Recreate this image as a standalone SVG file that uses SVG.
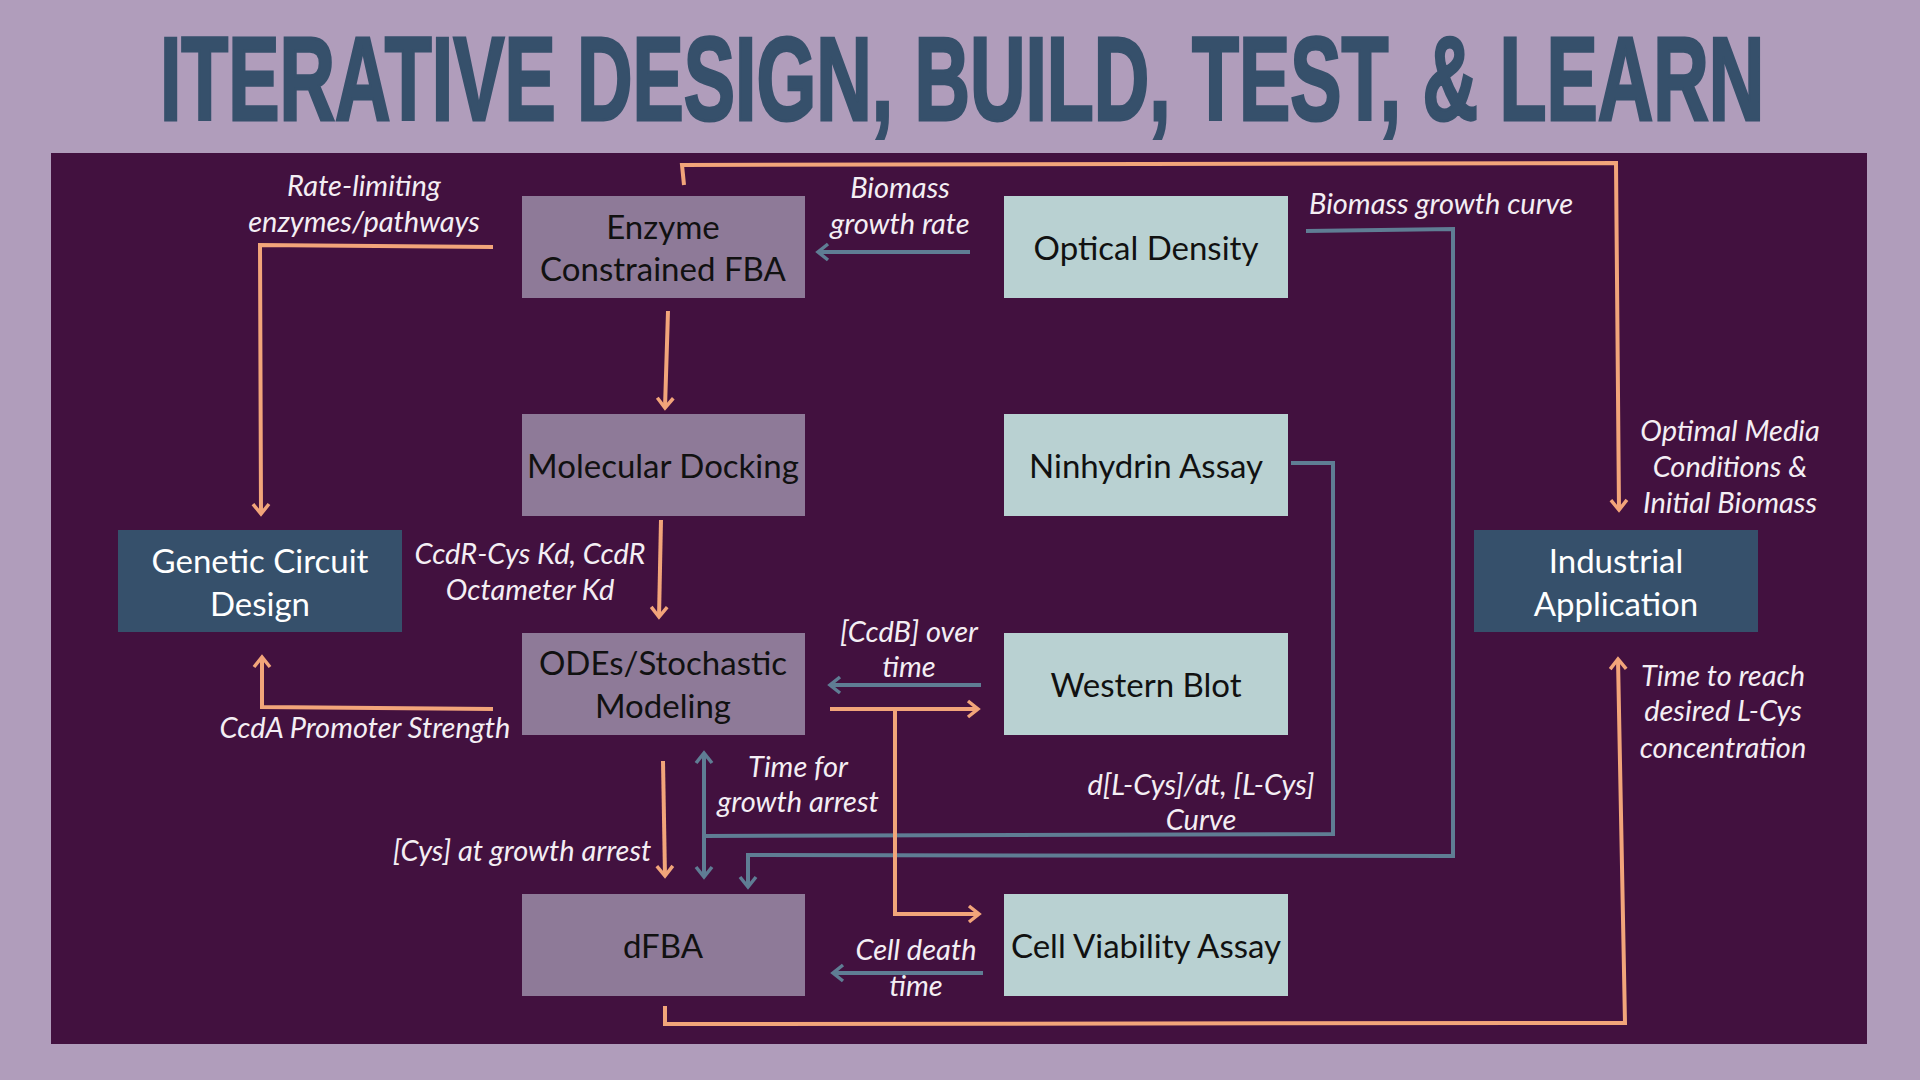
<svg xmlns="http://www.w3.org/2000/svg" width="1920" height="1080" viewBox="0 0 1920 1080">
<style>
.title{font-family:"Liberation Sans",Arial,sans-serif;font-weight:bold;font-size:119px;fill:#36506B;stroke:#36506B;stroke-width:3}
.purple{fill:#8E7A98}
.light{fill:#B9D1D2}
.dark{fill:#36506B}
.nt{font-family:Lato,"Noto Sans",sans-serif;font-size:33px;fill:#111111;text-anchor:middle;dominant-baseline:central}
.nw{fill:#FFFFFF}
.lb{font-family:Lato,"Noto Sans",sans-serif;font-style:italic;font-size:29px;fill:#F4EEF4;text-anchor:middle;dominant-baseline:central}
.o{fill:none;stroke:#F2A57A;stroke-width:4;stroke-linejoin:miter}
.b{fill:none;stroke:#5F7D94;stroke-width:4;stroke-linejoin:miter}
</style>
<defs>
<marker id="ao" viewBox="-14 -10 18 20" markerWidth="18" markerHeight="20" refX="0" refY="0" orient="auto" markerUnits="userSpaceOnUse"><path d="M-10,-8 L0,0 L-10,8" fill="none" stroke="#F2A57A" stroke-width="3.5"/></marker>
<marker id="ab" viewBox="-14 -10 18 20" markerWidth="18" markerHeight="20" refX="0" refY="0" orient="auto-start-reverse" markerUnits="userSpaceOnUse"><path d="M-10,-8 L0,0 L-10,8" fill="none" stroke="#5F7D94" stroke-width="3.5"/></marker>
</defs>
<rect x="0" y="0" width="1920" height="1080" fill="#B09DBB"/>
<text class="title" transform="translate(160,120) scale(0.646,1)" x="0" y="0">ITERATIVE DESIGN, BUILD, TEST, &amp; LEARN</text>
<rect x="51" y="153" width="1816" height="891" fill="#42113F"/>

<g id="connectors">
<path class="o" d="M684,185 L682,165 L1616,163 L1619,510" marker-end="url(#ao)"/>
<path class="o" d="M493,247 L260,245 L261,514" marker-end="url(#ao)"/>
<path class="o" d="M668,311 L665,408" marker-end="url(#ao)"/>
<path class="o" d="M661,520 L659,617" marker-end="url(#ao)"/>
<path class="o" d="M493,709 L262,707 L262,657" marker-end="url(#ao)"/>
<path class="b" d="M970,252 L818,252" marker-end="url(#ab)"/>
<path class="b" d="M1306,231 L1453,229 L1453,856 L748,855 L748,887" marker-end="url(#ab)"/>
<path class="b" d="M1291,463 L1333,463 L1333,834 L704,836"/>
<path class="b" d="M704,753 L704,877" marker-start="url(#ab)" marker-end="url(#ab)"/>
<path class="o" d="M663,761 L665,876" marker-end="url(#ao)"/>
<path class="b" d="M981,685 L830,685" marker-end="url(#ab)"/>
<path class="o" d="M830,709 L978,709" marker-end="url(#ao)"/>
<path class="o" d="M895,709 L895,914 L979,914" marker-end="url(#ao)"/>
<path class="b" d="M983,973 L833,973" marker-end="url(#ab)"/>
<path class="o" d="M665,1006 L665,1024 L1625,1023 L1618,659" marker-end="url(#ao)"/>
</g>

<g id="labels">
<text class="lb" x="364" y="184">Rate-limiting</text>
<text class="lb" x="364" y="220">enzymes/pathways</text>
<text class="lb" x="900" y="186">Biomass</text>
<text class="lb" x="900" y="222">growth rate</text>
<text class="lb" x="1441" y="202">Biomass growth curve</text>
<text class="lb" x="1730" y="429">Optimal Media</text>
<text class="lb" x="1730" y="465">Conditions &amp;</text>
<text class="lb" x="1730" y="501">Initial Biomass</text>
<text class="lb" x="530" y="552">CcdR-Cys Kd, CcdR</text>
<text class="lb" x="530" y="588">Octameter Kd</text>
<text class="lb" x="909" y="630">[CcdB] over</text>
<text class="lb" x="909" y="665">time</text>
<text class="lb" x="365" y="726">CcdA Promoter Strength</text>
<text class="lb" x="798" y="765">Time for</text>
<text class="lb" x="798" y="800">growth arrest</text>
<text class="lb" x="522" y="849">[Cys] at growth arrest</text>
<text class="lb" x="1201" y="783">d[L-Cys]/dt, [L-Cys]</text>
<text class="lb" x="1201" y="818">Curve</text>
<text class="lb" x="1723" y="674">Time to reach</text>
<text class="lb" x="1723" y="709">desired L-Cys</text>
<text class="lb" x="1723" y="746">concentration</text>
<text class="lb" x="916" y="948">Cell death</text>
<text class="lb" x="916" y="984">time</text>
</g>

<g id="ecfba"><rect class="purple" x="522" y="196" width="283" height="102"/><text class="nt" x="663" y="226">Enzyme</text><text class="nt" x="663" y="268">Constrained FBA</text></g>
<g id="optical-density"><rect class="light" x="1004" y="196" width="284" height="102"/><text class="nt" x="1146" y="247">Optical Density</text></g>
<g id="molecular-docking"><rect class="purple" x="522" y="414" width="283" height="102"/><text class="nt" x="663" y="465">Molecular Docking</text></g>
<g id="ninhydrin"><rect class="light" x="1004" y="414" width="284" height="102"/><text class="nt" x="1146" y="465">Ninhydrin Assay</text></g>
<g id="genetic-circuit"><rect class="dark" x="118" y="530" width="284" height="102"/><text class="nt nw" x="260" y="560">Genetic Circuit</text><text class="nt nw" x="260" y="603">Design</text></g>
<g id="industrial"><rect class="dark" x="1474" y="530" width="284" height="102"/><text class="nt nw" x="1616" y="560">Industrial</text><text class="nt nw" x="1616" y="603">Application</text></g>
<g id="odes"><rect class="purple" x="522" y="633" width="283" height="102"/><text class="nt" x="663" y="662">ODEs/Stochastic</text><text class="nt" x="663" y="705">Modeling</text></g>
<g id="western-blot"><rect class="light" x="1004" y="633" width="284" height="102"/><text class="nt" x="1146" y="684">Western Blot</text></g>
<g id="dfba"><rect class="purple" x="522" y="894" width="283" height="102"/><text class="nt" x="663" y="945">dFBA</text></g>
<g id="cell-viability"><rect class="light" x="1004" y="894" width="284" height="102"/><text class="nt" x="1146" y="945">Cell Viability Assay</text></g>
</svg>
